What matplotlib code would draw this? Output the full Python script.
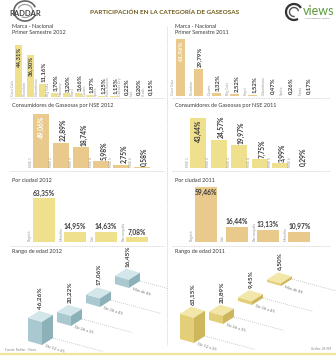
import matplotlib
matplotlib.use("Agg")
import matplotlib.pyplot as plt
from matplotlib.patches import Polygon, Arc

plt.rcParams['font.family'] = ['Lato', 'DejaVu Sans']

# data
marca_2012_cats = ["Coca Cola", "Postobón", "Colombiana", "Big Cola", "Manzana", "Pepsi",
                   "Quatro", "Sprite", "Kola Román", "Canada Dry", "Uva", "Crush"]
marca_2012 = [44.31, 36.30, 11.16, 3.70, 3.20, 3.66, 1.87, 1.25, 1.15, 0.22, 0.20, 0.15]
marca_2011_cats = ["Coca Cola", "Postobón", "Quatro", "Big Cola", "Pepsi", "Colombiana", "Sprite", "Fanta"]
marca_2011 = [61.96, 29.79, 3.32, 2.52, 1.52, 0.47, 0.26, 0.17]

nse_cats = ["NSE 1", "NSE 2", "NSE 3", "NSE 4", "NSE 5", "NSE 6"]
nse_2012 = [49.06, 22.89, 18.74, 5.98, 2.75, 0.58]
nse_2011 = [43.44, 24.57, 19.97, 7.75, 3.99, 0.29]

ciudad_2012_cats = ["Bogotá", "Medellín", "Cali", "Barranquilla"]
ciudad_2012 = [63.35, 14.95, 14.63, 7.08]
ciudad_2011_cats = ["Bogotá", "Cali", "Barranquilla", "Medellín"]
ciudad_2011 = [59.46, 16.44, 13.13, 10.97]

edad_cats = ["De 12 a 25", "De 26 a 35", "De 36 a 45", "Más de 46"]
edad_2012 = [46.26, 20.22, 17.06, 16.45]
edad_2011 = [63.15, 20.89, 9.45, 6.50]

W, H = 336, 356
YELLOW = '#efe08e'
TAN = '#e9c98c'
DARK = '#3a3a3a'
GRAY = '#9a9a9a'

fig = plt.figure(figsize=(W / 100, H / 100), dpi=100)
fig.patch.set_facecolor('white')


def pct(v):
    return f"{v:.2f}".replace('.', ',') + '%'


def px_axes(x0, y0, x1, y1):
    ax = fig.add_axes([x0 / W, 1 - y1 / H, (x1 - x0) / W, (y1 - y0) / H])
    ax.axis('off')
    return ax


def bar_panel(x0, x1, top, base, c0, step, width_px, scale, values, cats, color,
              fs, inside_min=None, inside_color=DARK, horizontal=False):
    ax = px_axes(x0, top, x1, base)
    ax.set_xlim((x0 - c0) / step, (x1 - c0) / step)
    ax.set_ylim(0, (base - top) / scale)
    w = width_px / step
    pos = list(range(len(values)))
    ax.bar(pos, values, width=w, color=color, linewidth=0)
    pad = 1.5 / scale
    for i, (v, c) in enumerate(zip(values, cats)):
        ax.text(i - w / 2 - 0.02, 0.8 / scale, c, rotation=90, ha='right', va='bottom',
                fontsize=2.6, color=GRAY)
        inside = inside_min is not None and v >= inside_min
        if horizontal:
            if inside:
                ax.text(i, v - pad, pct(v), ha='center', va='top', fontsize=fs,
                        fontweight='bold', color=inside_color)
            else:
                ax.text(i, v + pad, pct(v), ha='center', va='bottom', fontsize=fs,
                        fontweight='bold', color=DARK)
        else:
            if inside:
                ax.text(i, v - pad, pct(v), rotation=90, ha='center', va='top', fontsize=fs,
                        fontweight='bold', color=inside_color)
            else:
                ax.text(i + w * 0.15, v + pad, pct(v), rotation=90, ha='center', va='bottom',
                        fontsize=fs, fontweight='bold', color=DARK)
    return ax


def age_panel(x0, x1, values, cats, origin, k, front, top, side):
    ax = px_axes(x0, 250, x1, 352)
    ax.set_xlim(x0, x1)
    ax.set_ylim(352, 250)
    ax_, ay_ = 14, 4
    bx, by = 11, -7
    for i, (v, c) in enumerate(zip(values, cats)):
        px = origin[0] + 29 * i
        py = origin[1] - 19 * i
        h = v * k
        p0 = (px, py)
        p1 = (px + ax_, py + ay_)
        p2 = (p1[0], p1[1] - h)
        p3 = (px, py - h)
        ax.add_patch(Polygon([p0, p1, p2, p3], closed=True, color=front, lw=0))
        ax.add_patch(Polygon([p3, p2, (p2[0] + bx, p2[1] + by), (p3[0] + bx, p3[1] + by)],
                             closed=True, color=top, lw=0))
        ax.add_patch(Polygon([p1, (p1[0] + bx, p1[1] + by), (p2[0] + bx, p2[1] + by), p2],
                             closed=True, color=side, lw=0))
        # dashed guide and range label
        sx, sy = p1[0] + bx, p1[1] + by
        ax.plot([sx, sx + 50], [sy, sy + 13.5], ls=(0, (1.5, 1.5)), color='#bbbbbb', lw=0.5)
        ax.text(p1[0] + 4, p1[1] - 1, c, rotation=-17, rotation_mode='anchor',
                ha='left', va='top', fontsize=3, color='#777777')
        # value label
        ax.text(px + 12, py - h + by - 2, pct(v), rotation=90, ha='center', va='bottom',
                fontsize=4.6, fontweight='bold', color=DARK)
    return ax


# overlay in pixel coordinates for titles, separators, logos
ov = fig.add_axes([0, 0, 1, 1])
ov.set_xlim(0, W)
ov.set_ylim(H, 0)
ov.axis('off')

ov.text(165, 12, "PARTICIPACIÓN EN LA CATEGORÍA DE GASEOSAS", ha='center', va='center',
        fontsize=4.6, fontweight='bold', color='#6e5a1a',
        family=['Liberation Sans Narrow', 'Lato', 'DejaVu Sans'])
# raddar logo
ov.add_patch(Arc((25, 11), 22, 20, theta1=20, theta2=340, color='#666666', lw=1.2))
ov.add_patch(Arc((25, 11), 15, 13, theta1=200, theta2=120, color='#999999', lw=0.8))
ov.text(25, 13, "RADDAR", ha='center', va='center', fontsize=5.5, fontweight='bold', color='#444444')
# views logo
ov.add_patch(Arc((294, 12), 16, 16, theta1=60, theta2=330, color='#333333', lw=1.6))
ov.add_patch(Arc((294, 12), 9, 9, theta1=80, theta2=350, color='#555555', lw=1.0))
ov.text(303, 11, "views", ha='left', va='center', fontsize=9, color='#5a9a3c')
ov.text(305, 18.5, "Your Partner for Growth", ha='left', va='center', fontsize=1.6, color='#666666')

# section titles
for x, yr in [(12, "2012"), (175, "2011")]:
    ov.text(x, 26.5, "Marca - Nacional", fontsize=4, color=DARK, va='center')
    ov.text(x, 32, "Primer Semestre " + yr, fontsize=4, color=DARK, va='center')
    ov.text(x, 106, "Consumidores de Gaseosas por NSE " + yr, fontsize=4, color=DARK, va='center')
    ov.text(x, 180, "Por ciudad " + yr, fontsize=4, color=DARK, va='center')
    ov.text(x, 252, "Rango de edad " + yr, fontsize=4, color=DARK, va='center')

# separators
dash = (0, (1.2, 1.2))
for y in [98, 171, 246]:
    ov.plot([10, 164], [y, y], ls=dash, color='#c0c0c0', lw=0.5)
    ov.plot([172, 330], [y, y], ls=dash, color='#c0c0c0', lw=0.5)
ov.plot([167, 167], [26, 346], ls=dash, color='#c0c0c0', lw=0.5)

# footer
ov.text(5, 350, "Fuente: Raddar - Views", fontsize=2.2, color='#888888', va='center')
ov.text(331, 349, "Gráfica: LR/PM", fontsize=2.2, color='#888888', va='center', ha='right')
ov.plot([0, W], [354, 354], color='#f2e49a', lw=1.6)

# bar panels
bar_panel(10, 165, 35, 97, 18.5, 11.9, 7, 1.17, marca_2012, marca_2012_cats, YELLOW,
          4.3, inside_min=30, inside_color=DARK)
bar_panel(170, 330, 35, 96, 180, 18.2, 9, 0.92, marca_2011, marca_2011_cats, TAN,
          4.3, inside_min=40, inside_color='white')
bar_panel(10, 165, 110, 168, 41, 20.1, 16, 1.1, nse_2012, nse_cats, TAN,
          4.8, inside_min=40, inside_color='white')
bar_panel(172, 330, 110, 168, 198, 20.5, 16, 1.15, nse_2011, nse_cats, YELLOW,
          4.8, inside_min=40, inside_color=DARK)
bar_panel(10, 165, 185, 242, 43.5, 31.3, 22, 0.69, ciudad_2012, ciudad_2012_cats, YELLOW,
          4.8, horizontal=True)
bar_panel(172, 330, 185, 242, 205.5, 31.3, 22, 0.92, ciudad_2011, ciudad_2011_cats, TAN,
          4.8, inside_min=40, inside_color=DARK, horizontal=True)

# age panels
age_panel(0, 168, edad_2012, edad_cats, (28, 341), 0.5, '#a9c8cf', '#d3e6e9', '#8db1b9')
age_panel(168, 336, edad_2011, edad_cats, (180, 339), 0.4, '#e3cf78', '#f2e7a8', '#cdb65c')

fig.savefig("out.png", dpi=100)
